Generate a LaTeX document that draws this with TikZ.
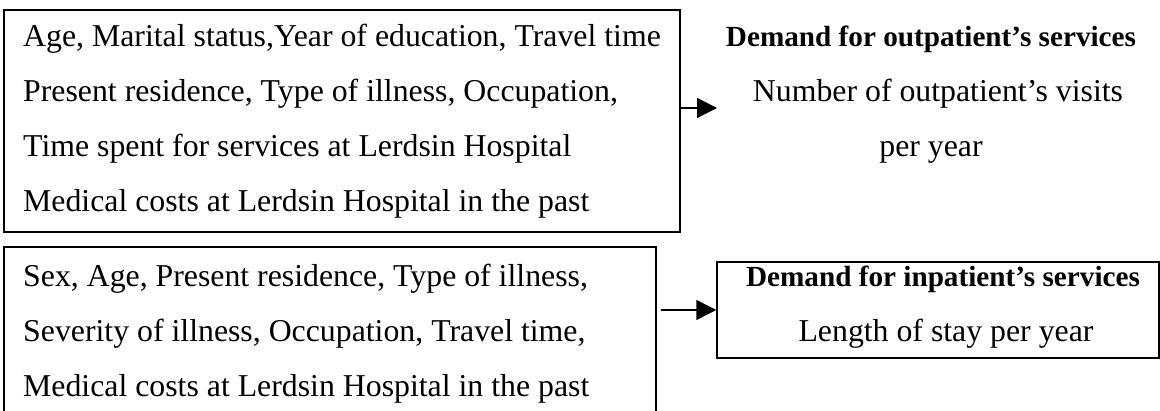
\documentclass[tikz,border=0pt]{standalone}
\usepackage{fontspec}
\setmainfont{Liberation Serif}
\usetikzlibrary{arrows.meta}
\begin{document}
\begin{tikzpicture}[x=1pt,y=-1pt,
  boxline/.style={draw=black, line width=1.5pt, inner sep=0pt, rectangle},
  txt/.style={anchor=base west, inner sep=0pt, font=\fontsize{31.8}{38}\selectfont},
  ctr/.style={anchor=base, inner sep=0pt, font=\fontsize{31.8}{38}\selectfont},
  hd/.style={anchor=base, inner sep=0pt, font=\fontsize{29.2}{36}\selectfont\bfseries},
  arr/.style={line width=1.5pt, -{Triangle[length=20pt,width=20pt]}}]
\useasboundingbox (0,0) rectangle (1160,411);
\clip (0,0) rectangle (1160,411);
% boxes
\node[boxline, minimum width=676pt, minimum height=222pt] (box1) at (342,121) {};
\node[boxline, minimum width=652pt, minimum height=200pt] (box2) at (330,347) {};
\node[boxline, minimum width=442pt, minimum height=96pt] (box3) at (938,310) {};
% box1 text
\node[txt] (a1) at (23,46.7) {Age, Marital status,Year of education, Travel time};
\node[txt] (a2) at (23,101.7) {Present residence, Type of illness, Occupation,};
\node[txt] (a3) at (23,156.7) {Time spent for services at Lerdsin Hospital};
\node[txt] (a4) at (23,211.7) {Medical costs at Lerdsin Hospital in the past};
% box2 text
\node[txt] (b1) at (23,286.7) {Sex, Age, Present residence, Type of illness,};
\node[txt] (b2) at (23,341.7) {Severity of illness, Occupation, Travel time,};
\node[txt] (b3) at (23,396.7) {Medical costs at Lerdsin Hospital in the past};
% outpatient text
\node[hd] (o1) at (931,46.7) {Demand for outpatient’s services};
\node[ctr] (o2) at (938,101.7) {Number of outpatient’s visits};
\node[ctr] (o3) at (931,156.7) {per year};
% inpatient text
\node[hd] (i1) at (943,286.7) {Demand for inpatient’s services};
\node[ctr] (i2) at (946,341.7) {Length of stay per year};
% connectors
\coordinate (outtip) at (717,108);
\draw[arr] (outtip -| box1.east) -- (outtip);
\draw[arr] ([xshift=4pt]box3.west -| box2.east) -- (box3.west);
\end{tikzpicture}
\end{document}
